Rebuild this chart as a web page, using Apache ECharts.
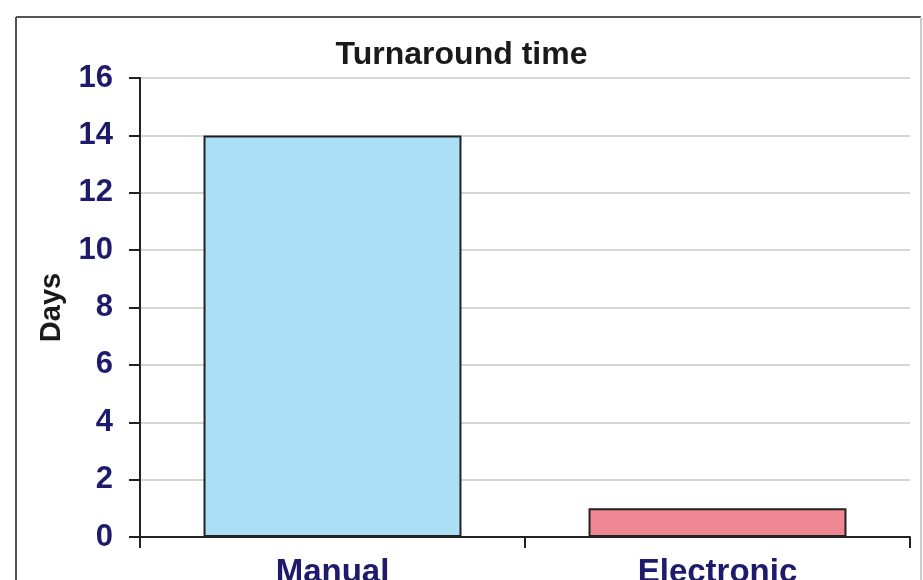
<!DOCTYPE html>
<html>
<head>
<meta charset="utf-8">
<script src="https://cdn.jsdelivr.net/npm/echarts@6/dist/echarts.min.js"></script>
<style>
  html, body { margin: 0; padding: 0; background: #fff; }
  #main { width: 923px; height: 580px; }
</style>
</head>
<body>
<div id="main"></div>
<script>
var categories = ['Manual', 'Electronic'];
var days = [14, 1];
var barColors = ['#aadff6', '#f08894'];
var yTicks = [0, 2, 4, 6, 8, 10, 12, 14, 16];

var navy = '#1e1a6c';
var chart = echarts.init(document.getElementById('main'));

var option = {
    backgroundColor: '#fff',
    textStyle: { fontFamily: 'Liberation Sans, Arial, sans-serif' },
    title: {
        text: 'Turnaround time',
        left: 'center',
        top: 34,
        textStyle: { fontSize: 32, fontWeight: 'bold', color: '#1a1a1a' }
    },
    graphic: [
        { type: 'line', shape: { x1: 16, y1: 17, x2: 921, y2: 17 }, style: { stroke: '#555', lineWidth: 2 } },
        { type: 'line', shape: { x1: 16, y1: 17, x2: 16, y2: 580 }, style: { stroke: '#555', lineWidth: 2 } },
        { type: 'line', shape: { x1: 921, y1: 17, x2: 921, y2: 580 }, style: { stroke: '#ccc', lineWidth: 2 } }
    ],
    grid: { left: 140, right: 13, top: 78, bottom: 43, containLabel: false, outerBoundsMode: 'none' },
    xAxis: {
        type: 'category',
        data: categories,
        axisLine: { lineStyle: { color: '#222', width: 2 } },
        axisTick: { show: true, length: 11, lineStyle: { color: '#222', width: 2 } },
        axisLabel: { color: navy, fontSize: 33, fontWeight: 'bold', margin: 19 }
    },
    yAxis: {
        type: 'value',
        min: yTicks[0],
        max: yTicks[yTicks.length - 1],
        interval: 2,
        name: 'Days',
        nameLocation: 'middle',
        nameGap: 74,
        nameTextStyle: { fontSize: 29, fontWeight: 'bold', color: '#1a1a1a' },
        axisLine: { show: true, lineStyle: { color: '#222', width: 2 } },
        axisTick: { show: true, length: 11, lineStyle: { color: '#222', width: 2 } },
        axisLabel: { color: navy, fontSize: 31, fontWeight: 'bold', margin: 27 },
        splitLine: { lineStyle: { color: '#d6d6d6', width: 2 } }
    },
    series: [{
        type: 'bar',
        barWidth: '67%',
        data: days.map(function (v, i) {
            return { value: v, itemStyle: { color: barColors[i] } };
        }),
        itemStyle: { borderColor: '#222', borderWidth: 2 }
    }]
};

chart.setOption(option);
</script>
</body>
</html>
